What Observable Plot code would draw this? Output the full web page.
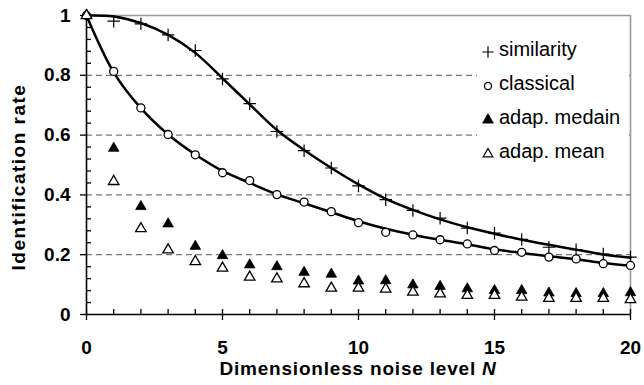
<!DOCTYPE html>
<html><head><meta charset="utf-8">
<script src="https://cdn.jsdelivr.net/npm/d3@7"></script>
<script src="https://cdn.jsdelivr.net/npm/@observablehq/plot@0.6"></script>
<style>
body{margin:0;background:#fff;}
#chart{position:relative;width:644px;height:385px;}
</style></head><body><div id="chart"></div>
<script>
// ---- data ----
const noiseLevels = [0,1,2,3,4,5,6,7,8,9,10,11,12,13,14,15,16,17,18,19,20];
const similarity  = [1.0,0.981,0.972,0.935,0.883,0.788,0.705,0.612,0.548,0.49,0.43,0.384,0.348,0.322,0.289,0.272,0.251,0.225,0.217,0.202,0.192];
const classical   = [1.0,0.813,0.691,0.602,0.534,0.474,0.448,0.401,0.376,0.344,0.307,0.275,0.266,0.25,0.236,0.214,0.208,0.192,0.186,0.17,0.164];
const adapMedian  = [1.0,0.556,0.361,0.303,0.228,0.197,0.166,0.16,0.141,0.135,0.112,0.113,0.099,0.094,0.086,0.08,0.08,0.072,0.07,0.07,0.073];
const adapMean    = [1.0,0.445,0.287,0.216,0.177,0.155,0.125,0.119,0.103,0.088,0.088,0.085,0.075,0.069,0.064,0.064,0.058,0.054,0.054,0.054,0.05];
const similarityFit = [1.0,0.997,0.975,0.935,0.875,0.79,0.703,0.617,0.55,0.49,0.435,0.387,0.35,0.318,0.292,0.27,0.25,0.233,0.217,0.201,0.19];
const classicalFit  = [1.0,0.81,0.69,0.602,0.535,0.48,0.44,0.402,0.372,0.342,0.312,0.287,0.267,0.25,0.235,0.218,0.206,0.195,0.185,0.172,0.163];
const xTicks = [0,5,10,15,20];
const yTicks = [0,0.2,0.4,0.6,0.8,1];
const yMinor = [0.04,0.08,0.12,0.16,0.24,0.28,0.32,0.36,0.44,0.48,0.52,0.56,0.64,0.68,0.72,0.76,0.84,0.88,0.92,0.96];
const gridY = [0.2,0.4,0.6,0.8];
const seriesNames = ["similarity","classical","adap. medain","adap. mean"];
const xTitle = "Dimensionless noise level ";
const xTitleVar = "N";
const yTitle = "Identification rate";

const rows = vals => noiseLevels.map((n,i)=>({n, v: vals[i]}));
const FONT = '"Liberation Sans", Arial, sans-serif';

const plot = Plot.plot({
  width:644, height:385,
  marginLeft:86, marginRight:14, marginTop:15, marginBottom:71,
  x:{domain:[0,20]},
  y:{domain:[0,1]},
  style:{fontFamily:FONT, background:"white", color:"black", overflow:"visible"},
  marks:[
    Plot.ruleY(gridY, {stroke:"#777", strokeWidth:1.3, strokeDasharray:"6,4"}),
    Plot.ruleY([1], {stroke:"#999", strokeWidth:1.6}),
    Plot.ruleX([20], {stroke:"#999", strokeWidth:1.6}),
    Plot.axisY({ticks:yTicks, tickSize:6, tickPadding:10, tickFormat:d=>String(d), fontSize:19, fontWeight:"bold", label:null, strokeWidth:1.3}),
    Plot.axisY({ticks:yMinor, tickSize:-5, tickFormat:()=>"", label:null, strokeWidth:1.3}),
    Plot.axisX({ticks:xTicks, tickSize:6, tickPadding:20, tickFormat:d=>String(d), fontSize:19, fontWeight:"bold", label:null, strokeWidth:1.3}),
    Plot.axisX({ticks:noiseLevels, tickSize:-5, tickFormat:()=>"", label:null, strokeWidth:1.3}),
    Plot.ruleY([0], {stroke:"black", strokeWidth:1.6}),
    Plot.ruleX([0], {stroke:"black", strokeWidth:1.6}),
    Plot.line(rows(similarityFit), {x:"n", y:"v", curve:"catmull-rom", stroke:"black", strokeWidth:2.5}),
    Plot.line(rows(classicalFit), {x:"n", y:"v", curve:"catmull-rom", stroke:"black", strokeWidth:2.5}),
    Plot.dot(rows(similarity), {x:"n", y:"v", symbol:"plus", r:4.1, stroke:"black", strokeWidth:1.2}),
    Plot.dot(rows(classical), {x:"n", y:"v", symbol:"circle", r:4, stroke:"black", fill:"white", strokeWidth:1.3}),
    Plot.dot(rows(adapMedian), {x:"n", y:"v", symbol:"triangle", r:3.9, fill:"black", stroke:"black", strokeWidth:0.8}),
    Plot.dot(rows(adapMean), {x:"n", y:"v", symbol:"triangle", r:3.9, fill:"white", stroke:"black", strokeWidth:1.3})
  ]
});
document.getElementById("chart").appendChild(plot);

// ---- titles & legend ----
const svg = d3.select(plot);
const xs = plot.scale("x");
const cx = (xs.range[0]+xs.range[1])/2;

const xt = svg.append("text")
  .attr("x", cx).attr("y", 375)
  .attr("text-anchor","middle")
  .attr("font-family",FONT).attr("font-size",19).attr("font-weight","bold")
  .attr("letter-spacing","0.8px").attr("fill","black");
xt.append("tspan").text(xTitle);
xt.append("tspan").attr("font-style","italic").text(xTitleVar);

svg.append("text")
  .attr("transform","translate(25,177) rotate(-90)")
  .attr("text-anchor","middle")
  .attr("font-family",FONT).attr("font-size",19).attr("font-weight","bold")
  .attr("letter-spacing","1.5px").attr("fill","black")
  .text(yTitle);

const lg = svg.append("g");
lg.append("rect").attr("x",477).attr("y",32).attr("width",152).attr("height",138)
  .attr("fill","white").attr("stroke","none");
const symDefs = [
  {type:d3.symbolPlus, size:45, fill:"none", stroke:"black", sw:1.2},
  {type:d3.symbolCircle, size:40, fill:"white", stroke:"black", sw:1.3},
  {type:d3.symbolTriangle, size:50, fill:"black", stroke:"black", sw:0.8},
  {type:d3.symbolTriangle, size:40, fill:"white", stroke:"black", sw:1.3}
];
seriesNames.forEach((name,i)=>{
  const base = 56 + i*34;
  const s = symDefs[i];
  lg.append("path")
    .attr("d", d3.symbol(s.type, s.size)())
    .attr("transform",`translate(488,${base-4})`)
    .attr("fill",s.fill).attr("stroke",s.stroke).attr("stroke-width",s.sw);
  lg.append("text").attr("x",499).attr("y",base)
    .attr("text-anchor","start")
    .attr("font-family",FONT).attr("font-size",20).attr("fill","black")
    .text(name);
});
</script></body></html>
